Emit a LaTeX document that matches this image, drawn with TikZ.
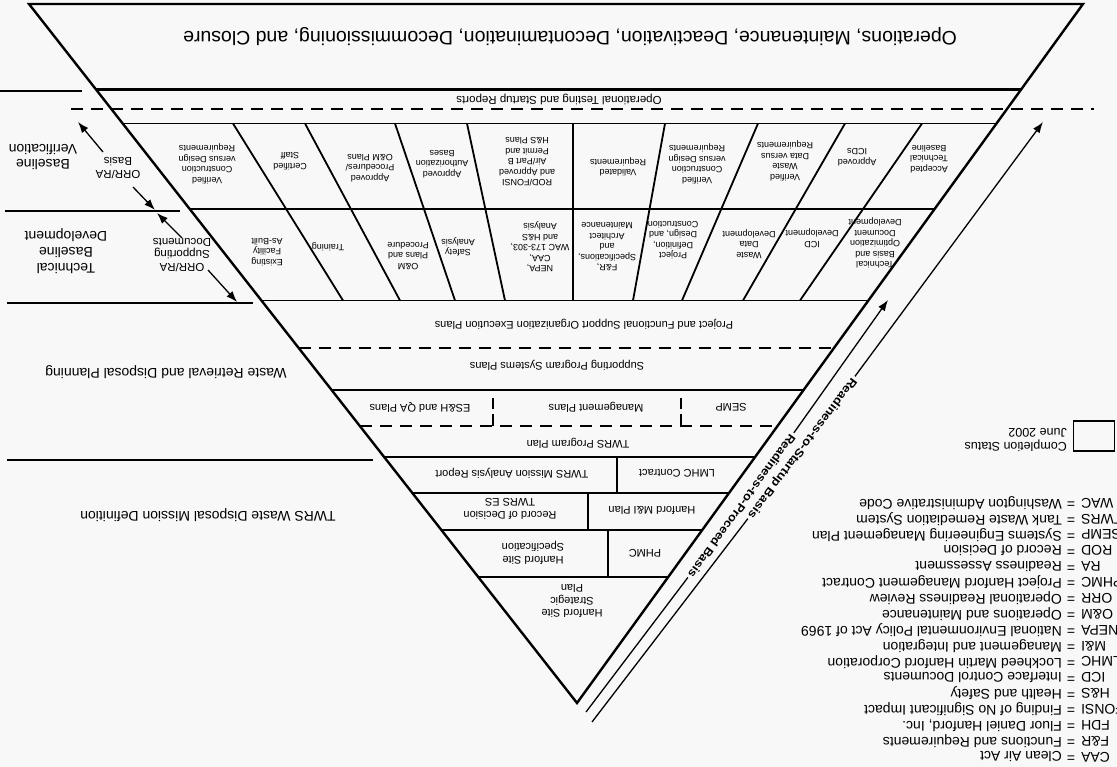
\documentclass[tikz,border=0pt]{standalone}
\usepackage{fontspec}
\usepackage{graphicx}
\setmainfont{Liberation Sans}
\usetikzlibrary{arrows.meta,calc}

% horizontal rule clipped to the two slanted sides of the funnel
\newcommand\trirule[2][hrule]{%
  \draw[#1] (intersection of TL--A and 0,#2--10,#2) -- (intersection of TR--A and 0,#2--10,#2);}

\definecolor{paper}{gray}{0.972}

\begin{document}
\begin{tikzpicture}[x=1pt,y=-1pt,
  outline/.style={line width=2.4pt, line join=miter},
  heavy/.style={line width=3pt},
  hrule/.style={line width=1.8pt},
  sideline/.style={line width=1.6pt},
  dashline/.style={line width=1.6pt, dash pattern=on 12pt off 8pt},
  vdash/.style={line width=1.6pt, dash pattern=on 12pt off 5pt},
  flip/.style={rotate=180, inner sep=1pt, align=center},
  cell/.style={flip, font=\fontsize{9}{10.5}\selectfont},
  rowlabel/.style={flip, font=\fontsize{11}{12.5}\selectfont},
  sidelabel/.style={flip, font=\fontsize{14}{16}\selectfont},
  tag/.style={flip, font=\fontsize{11.5}{12.5}\selectfont},
  legendtxt/.style={rotate=180, inner sep=0pt, font=\fontsize{14}{16}\selectfont},
  pointer/.style={line width=1.3pt, -{Latex[length=11pt,width=8pt]}},
  track/.style={line width=1.3pt},
  trackarrow/.style={track, -{Latex[length=11pt,width=8pt]}},
  basis/.style={inner sep=2.5pt, font=\bfseries\fontsize{11.5}{13}\selectfont},
]
\fill[paper] (0,0) rectangle (1117,767);
\useasboundingbox (0,0) rectangle (1117,767);

% funnel outline
\coordinate (TL) at (29,4);
\coordinate (TR) at (1083,4);
\coordinate (A)  at (577,703);
\draw[outline] (TR) -- (TL) -- (A) -- cycle;

% phase rules
\trirule[heavy]{89}
\draw[dashline] (71,109) -- (1094,109);
\trirule{123.5}
\trirule{209}
\trirule{300.5}
\trirule[dashline]{348}
\trirule{390}
\trirule[dashline]{426}
\trirule{457}
\trirule{493}
\trirule{530}
\trirule{577}

% side band rules
\draw[sideline] (0,91) -- (82,91);
\draw[sideline] (5,211) -- (180,211);
\draw[sideline] (7,303) -- (253,303);
\draw[sideline] (7,460) -- (373,460);

% grid dividers
\draw[hrule] (233,123.5) -- (343,300.5);
\draw[hrule] (305,123.5) -- (400,300.5);
\draw[hrule] (395,123.5) -- (455,300.5);
\draw[hrule] (467,123.5) -- (505,300.5);
\draw[hrule] (573,123.5) -- (573,300.5);
\draw[hrule] (665,123.5) -- (633,300.5);
\draw[hrule] (758,123.5) -- (682,300.5);
\draw[hrule] (845,123.5) -- (743,300.5);
\draw[hrule] (922,123.5) -- (800,300.5);

% row dividers
\draw[vdash] (493,426) -- (493,398);
\draw[vdash] (681,426) -- (681,398);
\draw[hrule] (617,457) -- (617,493);
\draw[hrule] (588,493) -- (588,530);
\draw[hrule] (608,530) -- (608,577);

% headings
\node[flip, font=\fontsize{19.5}{22}\selectfont] (title) at (570,37)
  {Operations, Maintenance, Deactivation, Decontamination, Decommissioning, and Closure};
\node[flip, font=\fontsize{11.5}{12}\selectfont] (optest) at (559,99)
  {Operational Testing and Startup Reports};

% verification row
\node[cell] (v1)  at (207,164) {Verified\\Construction\\versus Design\\Requirements};
\node[cell] (v2)  at (290,161) {Certified\\Staff};
\node[cell] (v3)  at (370,168) {Approved\\Procedures/\\O\&M Plans};
\node[cell] (v4)  at (442,164) {Approved\\Authorization\\Bases};
\node[cell] (v5)  at (527,162) {ROD/FONSI\\and Approved\\Air/Part B\\Permit and\\H\&S Plans};
\node[cell] (v6)  at (618,167) {Validated\\Requirements};
\node[cell] (v7)  at (697,164) {Verified\\Construction\\versus Design\\Requirements};
\node[cell] (v8)  at (785,161) {Verified\\Waste\\Data versus\\Requirements};
\node[cell] (v9)  at (857,157) {Approved\\ICDs};
\node[cell] (v10) at (929,159) {Accepted\\Technical\\Baseline};

% development row
\node[cell] (d1)  at (267,252) {Existing\\Facility\\As-Built};
\node[cell] (d2)  at (328,247) {Training};
\node[cell] (d3)  at (408,256) {O\&M\\Plans and\\Procedure};
\node[cell] (d4)  at (458,247) {Safety\\Analysis};
\node[cell] (d5)  at (540,247) {NEPA,\\CAA,\\WAC 173-303,\\and H\&S\\Analysis};
\node[cell] (d6)  at (607,247) {F\&R,\\Specifications,\\and\\Architect\\Maintenance};
\node[cell] (d7)  at (673,240) {Project\\Definition,\\Design, and\\Construction};
\node[cell] (d8)  at (749,244) {Waste\\Data\\Development};
\node[cell] (d9)  at (812,238) {ICD\\Development};
\node[cell] (d10) at (875,243) {Technical\\Basis and\\Optimization\\Document\\Development};

% planning rows
\node[rowlabel] (proj) at (584,324) {Project and Functional Support Organization Execution Plans};
\node[rowlabel] (supp) at (557,365) {Supporting Program Systems Plans};
\node[rowlabel] (esh)  at (420,407) {ES\&H and QA Plans};
\node[rowlabel] (mgmt) at (596,407) {Management Plans};
\node[rowlabel] (semp) at (731,407) {SEMP};
\node[rowlabel] (prog) at (578,443) {TWRS Program Plan};
\node[rowlabel] (tmar) at (512,473) {TWRS Mission Analysis Report};
\node[rowlabel] (lmhc) at (677,473) {LMHC Contract};
\node[rowlabel] (rod)  at (510,509) {Record of Decision\\TWRS ES};
\node[rowlabel] (mi)   at (652,510) {Hanford M\&I Plan};
\node[rowlabel] (hss)  at (533,553) {Hanford Site\\Specification};
\node[rowlabel] (phmc) at (645,553) {PHMC};
\node[rowlabel] (hssp) at (572,601) {Hanford Site\\Strategic\\Plan};

% side band labels
\node[sidelabel, font=\fontsize{14}{15}\selectfont] (bv) at (43,157) {Baseline\\Verification};
\node[sidelabel] (tbd) at (66,251) {Technical\\Baseline\\Development};
\node[sidelabel] (wrdp) at (166,372) {Waste Retrieval and Disposal Planning};
\node[sidelabel] (twdm) at (208,515) {TWRS Waste Disposal Mission Definition};

% ORR/RA pointers
\node[tag] (basis) at (118,168) {ORR/RA\\Basis};
\node[tag] (supdoc) at (182,255) {ORR/RA\\Supporting\\Documents};
\coordinate (b1) at (103,152); \coordinate (h1) at (78,122);
\coordinate (b2) at (133,187); \coordinate (h2) at (155,210);
\coordinate (b3) at (182,238); \coordinate (h3) at (157,213);
\coordinate (b4) at (208,270); \coordinate (h4) at (237,302);
\draw[pointer] (b1) -- (h1);
\draw[pointer] (b2) -- (h2);
\draw[pointer] (b3) -- (h3);
\draw[pointer] (b4) -- (h4);

% readiness tracks
\coordinate (Ps) at (586,712); \coordinate (Pt) at (888,300);
\coordinate (Ss) at (592,722); \coordinate (St) at (1043,122);
\node[basis, rotate=234] (ptxt) at (742,506) {\scalebox{1.12}[1]{Readiness-to-Proceed Basis}};
\node[basis, rotate=233] (stxt) at (802,448) {\scalebox{1.15}[1]{Readiness-to-Startup Basis}};
\draw[track] (Ps) -- (ptxt);
\draw[trackarrow] (ptxt) -- (Pt);
\draw[track] (Ss) -- (stxt);
\draw[trackarrow] (stxt) -- (St);

% completion status key
\node[draw, line width=1.4pt, minimum width=41pt, minimum height=30pt, inner sep=0pt] (cbox) at (1094,436) {};
\node[flip, anchor=west, align=left, font=\fontsize{12.5}{14}\selectfont] (cstat) at (1068,440) {Completion Status\\June 2002};

% abbreviations
\foreach \ab/\df [count=\i from 0] in {
  CAA/Clean Air Act,
  F\&R/Functions and Requirements,
  FDH/{Fluor Daniel Hanford, Inc.},
  FONSI/Finding of No Significant Impact,
  H\&S/Health and Safety,
  ICD/Interface Control Documents,
  LMHC/Lockheed Martin Hanford Corporation,
  M\&I/Management and Integration,
  NEPA/National Environmental Policy Act of 1969,
  O\&M/Operations and Maintenance,
  ORR/Operational Readiness Review,
  PHMC/Project Hanford Management Contract,
  RA/Readiness Assessment,
  ROD/Record of Decision,
  SEMP/Systems Engineering Management Plan,
  TWRS/Tank Waste Remediation System,
  WAC/Washington Administrative Code}{
  \node[legendtxt, anchor=east] (ab\i) at (1081,757-15.875*\i) {\ab};
  \node[legendtxt] (eq\i) at (1071,757-15.875*\i) {=};
  \node[legendtxt, anchor=west] (df\i) at (1062,757-15.875*\i) {\df};
}
\end{tikzpicture}
\end{document}
